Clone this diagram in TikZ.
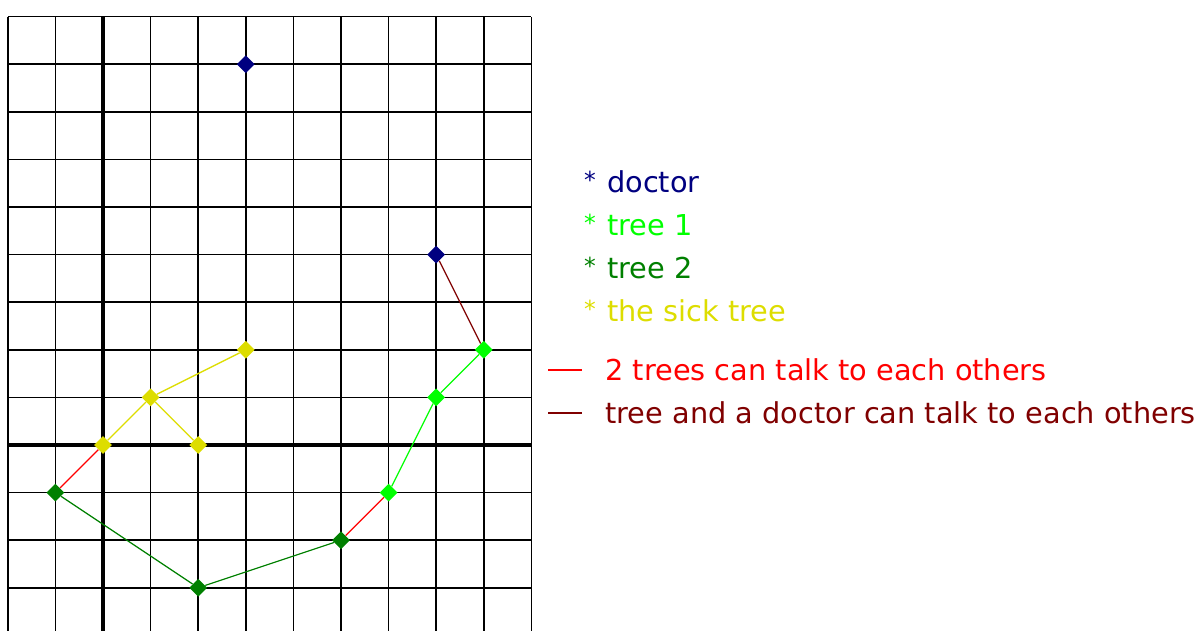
\documentclass[tikz,border=0pt]{standalone}
\usepackage{fontspec}
\setmainfont{DejaVu Sans}
\usetikzlibrary{shapes.geometric, positioning}
\definecolor{docblue}{RGB}{0,0,128}
\definecolor{treelight}{RGB}{0,255,0}
\definecolor{treedark}{RGB}{0,128,0}
\definecolor{sickyellow}{RGB}{221,221,0}
\definecolor{talkred}{RGB}{255,0,0}
\definecolor{talkmaroon}{RGB}{128,0,0}
\newcommand{\mystar}{{\fontsize{14}{14}\selectfont\raisebox{0.35ex}{*}}\hspace{0.4em}}
\tikzset{
  spot/.style={diamond, inner sep=0pt, minimum width=0.38cm, minimum height=0.38cm},
  doctor/.style={spot, fill=docblue},
  treeone/.style={spot, fill=treelight},
  treetwo/.style={spot, fill=treedark},
  sick/.style={spot, fill=sickyellow},
  gridline/.style={line width=1pt, black},
  axisline/.style={line width=1.9pt, black},
  link/.style={line width=0.75pt},
  legend/.style={anchor=west, inner sep=0pt, font=\fontsize{17.2}{20}\selectfont}
}
\begin{document}
\begin{tikzpicture}
    \useasboundingbox (-2.164,-3.908) rectangle (23.09,9.349);
    % grid and axes
    \begin{scope}
      \clip (-2.2,-3.908) rectangle (9.2,9.2);
      \draw[gridline] (-2,-4) grid (9,9);
      \draw[axisline] (-2,0) -- (9,0);
      \draw[axisline] (0,-4) -- (0,9);
    \end{scope}

    % doctors
    \node[doctor] (docA) at (3,8) {};
    \node[doctor] (docB) at (7,4) {};
    % tree 1
    \node[treeone] (oneA) at (8,2) {};
    \node[treeone] (oneB) at (7,1) {};
    \node[treeone] (oneC) at (6,-1) {};
    % tree 2
    \node[treetwo] (twoA) at (-1,-1) {};
    \node[treetwo] (twoB) at (2,-3) {};
    \node[treetwo] (twoC) at (5,-2) {};
    % the sick tree
    \node[sick] (sickA) at (3,2) {};
    \node[sick] (sickB) at (1,1) {};
    \node[sick] (sickC) at (0,0) {};
    \node[sick] (sickD) at (2,0) {};

    \draw[link, sickyellow] (sickA) -- (sickB);
    \draw[link, sickyellow] (sickB) -- (sickC);
    \draw[link, sickyellow] (sickB) -- (sickD);
    \draw[link, talkred] (sickC) -- (twoA);
    \draw[link, treedark] (twoA) -- (twoB);
    \draw[link, treedark] (twoB) -- (twoC);
    \draw[link, talkred] (twoC) -- (oneC);
    \draw[link, treelight] (oneC) -- (oneB);
    \draw[link, treelight] (oneB) -- (oneA);
    \draw[link, talkmaroon] (docB) -- (oneA);

    % legend
    \node[legend, text=docblue] (lgdoc) at (10.1,5.525) {\mystar doctor};
    \node[legend, text=treelight] (lgone) at (10.1,4.62) {\mystar tree 1};
    \node[legend, text=treedark] (lgtwo) at (10.1,3.72) {\mystar tree 2};
    \node[legend, text=sickyellow] (lgsick) at (10.1,2.815) {\mystar the sick tree};
    \node[legend, text=talkred] (lgred) at (10.55,1.576) {2 trees can talk to each others};
    \node[legend, text=talkmaroon] (lgmaroon) at (10.55,0.672)
      {tree and a doctor can talk to each others};
    \coordinate[left=0.48cm of lgred.west] (redE);
    \coordinate[left=1.2cm of lgred.west] (redS);
    \coordinate[left=0.48cm of lgmaroon.west] (maroonE);
    \coordinate[left=1.2cm of lgmaroon.west] (maroonS);
    \draw[link, talkred] (redS) -- (redE);
    \draw[link, talkmaroon] (maroonS) -- (maroonE);
\end{tikzpicture}
\end{document}
